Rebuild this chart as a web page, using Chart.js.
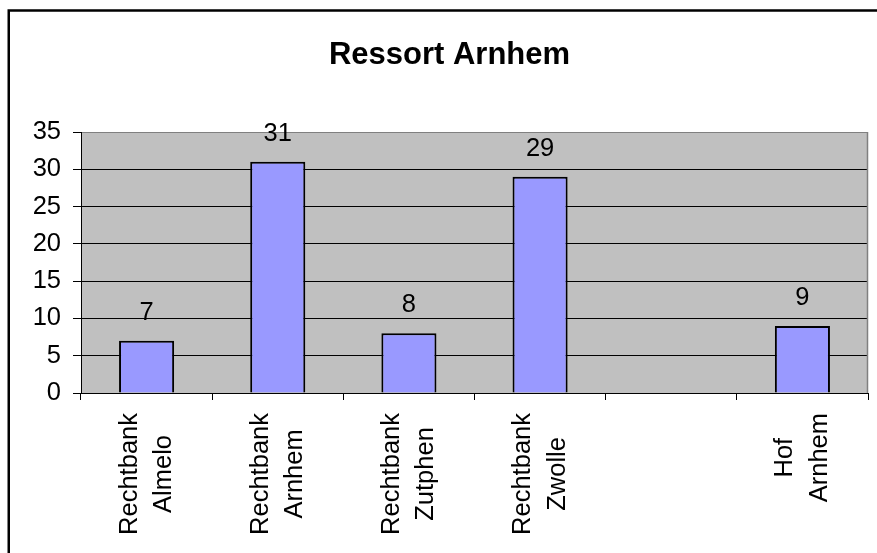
<!DOCTYPE html>
<html>
<head>
<meta charset="utf-8">
<script src="https://cdn.jsdelivr.net/npm/chart.js@4.4.1/dist/chart.umd.min.js"></script>
<style>
html,body{margin:0;padding:0;background:#fff;}
canvas{display:block;}
</style>
</head>
<body>
<canvas id="c" width="877" height="553"></canvas>
<script>
const chartTitle = 'Ressort Arnhem';
const categories = [['Rechtbank','Almelo'],['Rechtbank','Arnhem'],['Rechtbank','Zutphen'],['Rechtbank','Zwolle'],[''],['Hof','Arnhem']];
const values = [7, 31, 8, 29, null, 9];
const yTicks = [0, 5, 10, 15, 20, 25, 30, 35];

const FONT = "'Liberation Sans', Arial, sans-serif";

const decor = {
  id: 'decor',
  beforeDraw(chart) {
    const {ctx, chartArea: a} = chart;
    ctx.save();
    ctx.fillStyle = '#fff';
    ctx.fillRect(0, 0, chart.width, chart.height);
    ctx.fillStyle = '#C0C0C0';
    ctx.fillRect(a.left, a.top, a.right - a.left, a.bottom - a.top);
    ctx.restore();
  },
  beforeDatasetsDraw(chart) {
    const {ctx, chartArea: a} = chart;
    ctx.save();
    ctx.strokeStyle = '#808080';
    ctx.lineWidth = 1.5;
    ctx.beginPath();
    ctx.moveTo(a.right - 0.5, a.top);
    ctx.lineTo(a.right - 0.5, a.bottom);
    ctx.stroke();
    ctx.restore();
  },
  afterDraw(chart) {
    const {ctx} = chart;
    const xs = chart.scales.x;
    ctx.save();
    // title
    ctx.fillStyle = '#000';
    ctx.font = 'bold 31px ' + FONT;
    ctx.textAlign = 'center';
    ctx.textBaseline = 'alphabetic';
    ctx.fillText(chartTitle, 449.5, 63.5);
    // value labels
    ctx.font = '25.5px ' + FONT;
    const meta = chart.getDatasetMeta(0);
    meta.data.forEach((bar, i) => {
      if (values[i] == null) return;
      ctx.fillText(String(values[i]), bar.x, bar.y - 21);
    });
    // category labels (rotated, lines centred, block top-aligned)
    categories.forEach((lines, i) => {
      const cx = xs.getPixelForValue(i);
      const widths = lines.map(l => ctx.measureText(l).width);
      const maxW = Math.max(...widths);
      const cy = 413 + maxW / 2;
      const offs = [-10, 24.5];
      lines.forEach((l, j) => {
        ctx.save();
        ctx.translate(cx + offs[j] - (lines.length === 1 ? -7 : 0), cy);
        ctx.rotate(-Math.PI / 2);
        ctx.textAlign = 'center';
        ctx.textBaseline = 'alphabetic';
        ctx.fillText(l, 0, 0);
        ctx.restore();
      });
    });
    // outer frame
    ctx.strokeStyle = '#000';
    ctx.lineWidth = 2.5;
    ctx.strokeRect(8.75, 10.5, 1000, 1000);
    ctx.restore();
  }
};

new Chart(document.getElementById('c'), {
  type: 'bar',
  data: {
    labels: categories,
    datasets: [{
      data: values,
      backgroundColor: '#9999FF',
      borderColor: '#000',
      borderWidth: 2,
      categoryPercentage: 1,
      barPercentage: 0.42
    }]
  },
  options: {
    responsive: false,
    animation: false,
    devicePixelRatio: 1,
    layout: {padding: {top: 132, right: 9, left: 0, bottom: 0}},
    plugins: {legend: {display: false}, tooltip: {enabled: false}, title: {display: false}},
    scales: {
      x: {
        offset: true,
        grid: {offset: true, drawOnChartArea: false, drawTicks: true, tickLength: 7, color: '#000', lineWidth: 1},
        border: {display: true, color: '#000', width: 1},
        ticks: {display: false},
        afterFit(s) { s.height = 160; }
      },
      y: {
        min: 0, max: 35,
        afterBuildTicks(s) { s.ticks = yTicks.map(v => ({value: v})); },
        grid: {
          color: c => (c.tick && c.tick.value === 35) ? '#808080' : '#000',
          tickColor: '#000',
          lineWidth: 1,
          tickLength: 8
        },
        border: {display: true, color: '#000', width: 1},
        ticks: {color: '#000', padding: 12, font: {family: FONT, size: 25.5}},
        afterFit(s) { s.width = 81; }
      }
    }
  },
  plugins: [decor]
});
</script>
</body>
</html>
